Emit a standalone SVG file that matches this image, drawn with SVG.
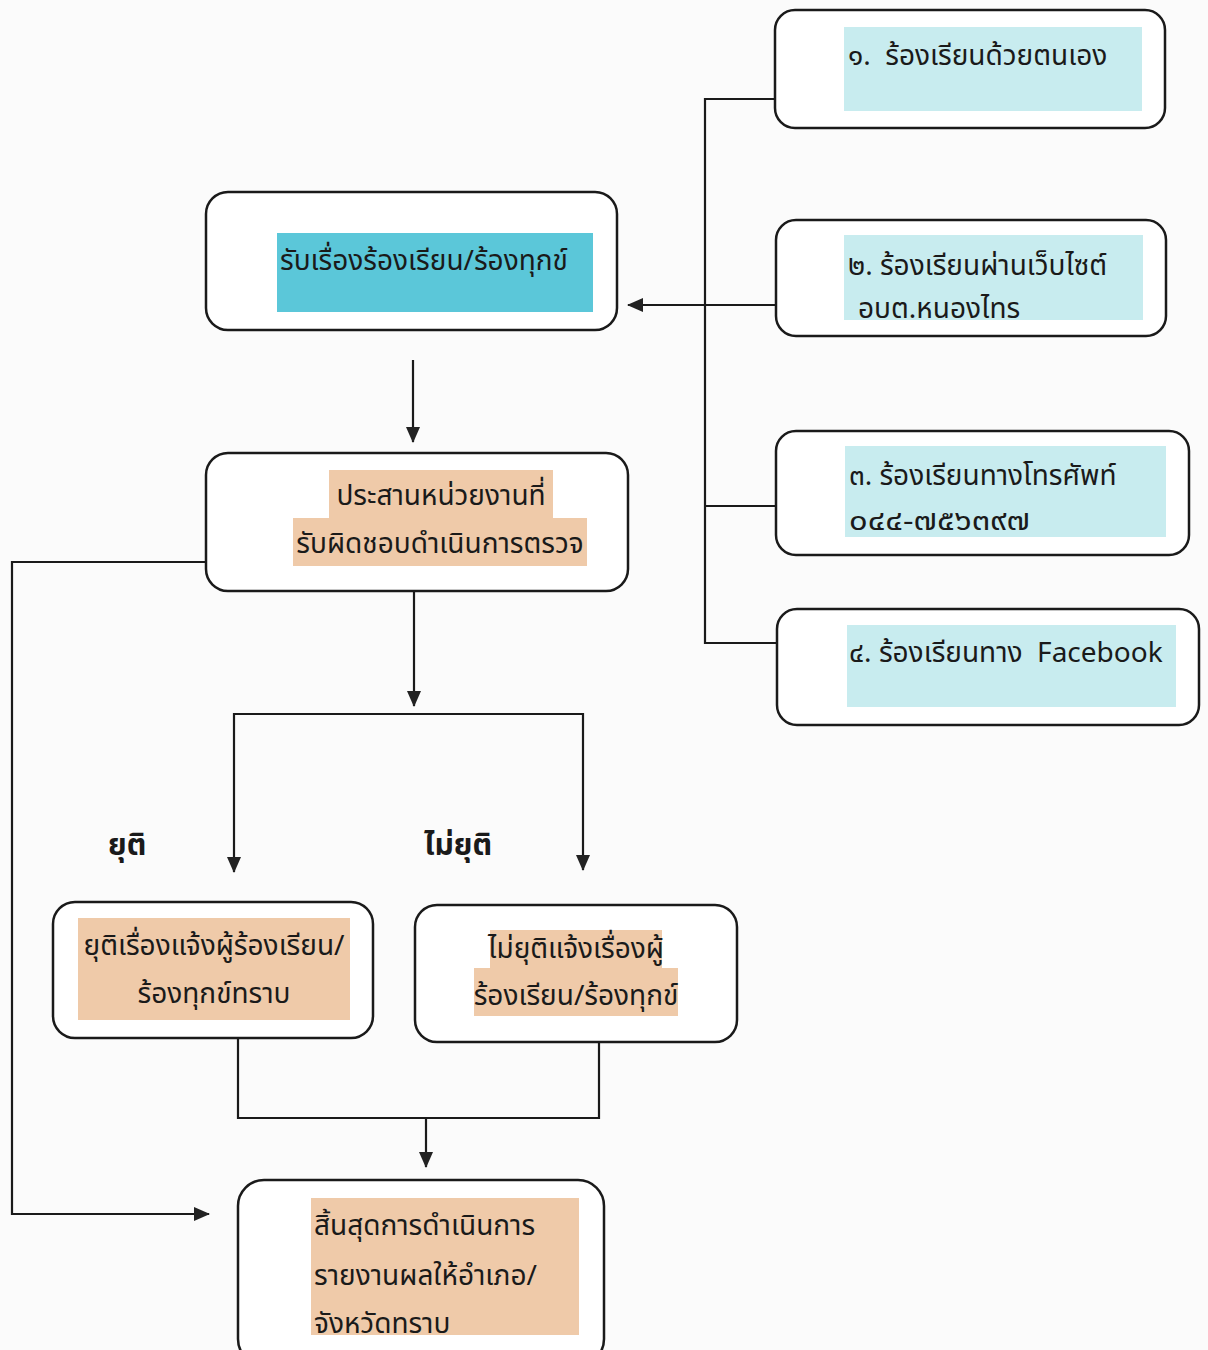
<svg xmlns="http://www.w3.org/2000/svg" width="1208" height="1350" viewBox="0 0 1208 1350">
<defs>
<marker id="ah" viewBox="0 0 16 14" refX="15" refY="7" markerWidth="16" markerHeight="14" markerUnits="userSpaceOnUse" orient="auto">
<path d="M0,0 L16,7 L0,14 Z" fill="#222"/>
</marker>
<style>
.box{fill:#ffffff;stroke:#1a1a1a;stroke-width:2.5}
.ln{fill:none;stroke:#1a1a1a;stroke-width:2.2}
.cy{fill:#c8ecef}
.cyd{fill:#5bc7d9}
.pe{fill:#efcaa9}
.t{font-family:"Noto Sans Thai","Noto Sans","DejaVu Sans",sans-serif;font-size:28px;fill:#1a1a1a;white-space:pre}
.tb{font-family:"Noto Sans Thai","Noto Sans","DejaVu Sans",sans-serif;font-size:30px;font-weight:bold;fill:#1a1a1a}
</style>
</defs>
<rect width="1208" height="1350" fill="#fbfbfb"/>
<g id="connectors">
<path class="ln" d="M775,99 H705 V643 H777"/>
<path class="ln" d="M705,506 H776"/>
<path class="ln" d="M776,305 H628" marker-end="url(#ah)"/>
<path class="ln" d="M413,360 V442" marker-end="url(#ah)"/>
<path class="ln" d="M414,591 V706" marker-end="url(#ah)"/>
<path class="ln" d="M234,714 H583"/>
<path class="ln" d="M583,713 V870" marker-end="url(#ah)"/>
<path class="ln" d="M234,713 V872" marker-end="url(#ah)"/>
<path class="ln" d="M206,562 H12 V1214 H209" marker-end="url(#ah)"/>
<path class="ln" d="M238,1038 V1118 H599 V1042"/>
<path class="ln" d="M426,1118 V1167" marker-end="url(#ah)"/>
</g>
<g id="n1">
<rect class="box" x="775" y="10" width="390" height="118" rx="20"/>
<rect class="cy" x="844" y="27" width="298" height="84"/>
<text class="t" x="848" y="65">๑.  ร้องเรียนด้วยตนเอง</text>
</g>
<g id="n2">
<rect class="box" x="776" y="220" width="390" height="116" rx="20"/>
<rect class="cy" x="844" y="235" width="299" height="85"/>
<text class="t" x="848" y="275">๒. ร้องเรียนผ่านเว็บไซต์</text>
<text class="t" x="858" y="318">อบต.หนองไทร</text>
</g>
<g id="n3">
<rect class="box" x="776" y="431" width="413" height="124" rx="20"/>
<rect class="cy" x="845" y="446" width="321" height="91"/>
<text class="t" x="849" y="485">๓. ร้องเรียนทางโทรศัพท์</text>
<text class="t" x="849" y="530" textLength="181" lengthAdjust="spacingAndGlyphs">๐๔๔-๗๕๖๓๙๗</text>
</g>
<g id="n4">
<rect class="box" x="777" y="609" width="422" height="116" rx="20"/>
<rect class="cy" x="847" y="625" width="329" height="82"/>
<text class="t" x="849" y="662">๔. ร้องเรียนทาง  Facebook</text>
</g>
<g id="nA">
<rect class="box" x="206" y="192" width="411" height="138" rx="22"/>
<rect class="cyd" x="277" y="233" width="316" height="79"/>
<text class="t" x="280" y="270">รับเรื่องร้องเรียน/ร้องทุกข์</text>
</g>
<g id="nB">
<rect class="box" x="206" y="453" width="422" height="138" rx="22"/>
<rect class="pe" x="329" y="470" width="224" height="49"/>
<rect class="pe" x="293" y="518" width="294" height="48"/>
<text class="t" x="441" y="505" text-anchor="middle">ประสานหน่วยงานที่</text>
<text class="t" x="440" y="553" text-anchor="middle">รับผิดชอบดำเนินการตรวจ</text>
</g>
<g id="lbl">
<text class="tb" x="108" y="855">ยุติ</text>
<text class="tb" x="424" y="855">ไม่ยุติ</text>
</g>
<g id="nC">
<rect class="box" x="53" y="902" width="320" height="136" rx="22"/>
<rect class="pe" x="78" y="918" width="272" height="102"/>
<text class="t" x="214" y="955" text-anchor="middle">ยุติเรื่องแจ้งผู้ร้องเรียน/</text>
<text class="t" x="214" y="1003" text-anchor="middle">ร้องทุกข์ทราบ</text>
</g>
<g id="nD">
<rect class="box" x="415" y="905" width="322" height="137" rx="22"/>
<rect class="pe" x="490" y="930" width="172" height="39"/>
<rect class="pe" x="474" y="968" width="204" height="48"/>
<text class="t" x="576" y="958" text-anchor="middle">ไม่ยุติแจ้งเรื่องผู้</text>
<text class="t" x="576" y="1005" text-anchor="middle">ร้องเรียน/ร้องทุกข์</text>
</g>
<g id="nE">
<rect class="box" x="238" y="1180" width="366" height="185" rx="26"/>
<rect class="pe" x="311" y="1198" width="268" height="137"/>
<text class="t" x="314" y="1235">สิ้นสุดการดำเนินการ</text>
<text class="t" x="314" y="1285">รายงานผลให้อำเภอ/</text>
<text class="t" x="314" y="1333">จังหวัดทราบ</text>
</g>
</svg>
